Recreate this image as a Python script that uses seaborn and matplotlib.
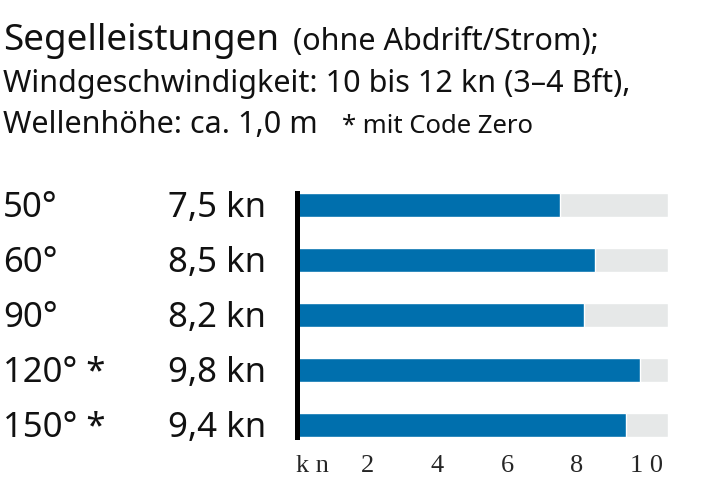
import matplotlib
matplotlib.use("Agg")
import matplotlib.pyplot as plt
import matplotlib.transforms as mtransforms
import seaborn as sns
import pandas as pd

# Daten
winkel = ['50°', '60°', '90°', '120°*', '150°*']
speed = [7.5, 8.5, 8.2, 9.8, 9.4]
ticks = [0.45, 2, 4, 6, 8, 10]
tick_labels = ['k n', '2', '4', '6', '8', '1 0']
skala_max = 10.6

blau = '#006fad'
grau = '#e6e8e8'

sns.set_theme(style='white')
plt.rcParams['font.family'] = ['Noto Sans', 'DejaVu Sans']

df = pd.DataFrame({'winkel': winkel, 'speed': speed, 'max': [skala_max] * len(winkel)})

fig = plt.figure(figsize=(7.12, 4.98), dpi=100)
W, H = 712, 498
ax = fig.add_axes([297 / W, 61 / H, 371 / W, 244 / H])

sns.barplot(data=df, y='winkel', x='max', color=grau, width=0.44, ax=ax,
            saturation=1, orient='h')
sns.barplot(data=df, y='winkel', x='speed', color=blau, width=0.44, ax=ax,
            saturation=1, orient='h')

ax.set_xlim(0, skala_max)
ax.set_ylim(len(winkel) - 1 + 0.22, -0.22)
ax.set_xlabel('')
ax.set_ylabel('')
ax.set_yticks([])
ax.set_xticks(ticks)
ax.set_xticklabels(tick_labels, family=['Liberation Serif'], fontsize=19)
ax.tick_params(axis='x', length=0, pad=13)
for s in ['top', 'right', 'bottom']:
    ax.spines[s].set_visible(False)
ax.spines['left'].set_color('black')
ax.spines['left'].set_linewidth(3.6)

# Beschriftung links
trans = mtransforms.blended_transform_factory(fig.transFigure, ax.transData)
for i, (w, v) in enumerate(zip(winkel, speed)):
    ax.text(3 / W, i + 0.22, w.replace('*', ' *'), transform=trans, fontsize=25,
            ha='left', va='baseline', color='#111111')
    ax.text(266 / W, i + 0.22, f'{v:.1f} kn'.replace('.', ','), transform=trans,
            fontsize=25, ha='right', va='baseline', color='#111111')

# Titel
fig.text(3 / W, 1 - 50 / H, 'Segelleistungen', fontsize=26.5, color='#111111')
fig.text(293 / W, 1 - 50 / H, '(ohne Abdrift/Strom);', fontsize=22, color='#111111')
fig.text(3 / W, 1 - 92 / H, 'Windgeschwindigkeit: 10 bis 12 kn (3–4 Bft),',
         fontsize=22, color='#111111')
fig.text(3 / W, 1 - 133 / H, 'Wellenhöhe: ca. 1,0 m', fontsize=22, color='#111111')
fig.text(342 / W, 1 - 133 / H, '* mit Code Zero', fontsize=18.5, color='#111111')

fig.savefig('out.png', dpi=100)
